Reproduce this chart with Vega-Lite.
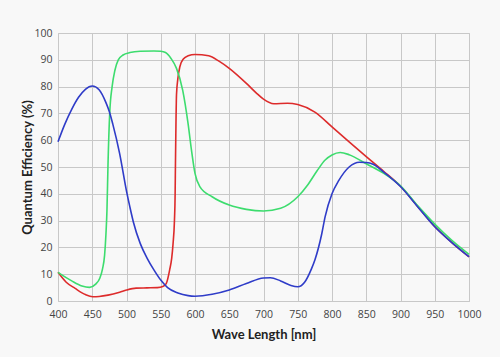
{
  "$schema": "https://vega.github.io/schema/vega-lite/v6.json",
  "width": 411,
  "height": 268,
  "autosize": "none",
  "padding": {"left": 58, "top": 33, "right": 31, "bottom": 56},
  "background": "#f8f8f8",
  "config": {
    "view": {"stroke": "#c8c8c8", "strokeWidth": 1},
    "font": "Open Sans",
    "axis": {
      "gridColor": "#c8c8c8",
      "gridOpacity": 1,
      "gridWidth": 1,
      "domain": false,
      "ticks": false,
      "labelFont": "Open Sans",
      "labelFontSize": 10.5,
      "labelColor": "#444444",
      "labelFlush": false,
      "titleFont": "Lato",
      "titleFontSize": 13,
      "titleFontWeight": "bold",
      "titleColor": "#222222"
    }
  },
  "data": {
    "values": [
      {"s": "red", "nm": 400, "qe": 10.7},
      {"s": "red", "nm": 412, "qe": 7},
      {"s": "red", "nm": 425, "qe": 4.7},
      {"s": "red", "nm": 440, "qe": 2.4},
      {"s": "red", "nm": 451, "qe": 1.6},
      {"s": "red", "nm": 460, "qe": 1.7},
      {"s": "red", "nm": 473, "qe": 2.2},
      {"s": "red", "nm": 490, "qe": 3.3},
      {"s": "red", "nm": 500, "qe": 4.1},
      {"s": "red", "nm": 514, "qe": 4.8},
      {"s": "red", "nm": 530, "qe": 4.9},
      {"s": "red", "nm": 545, "qe": 5},
      {"s": "red", "nm": 553, "qe": 5.4},
      {"s": "red", "nm": 558, "qe": 6.5},
      {"s": "red", "nm": 563, "qe": 11.6},
      {"s": "red", "nm": 566, "qe": 16},
      {"s": "red", "nm": 568, "qe": 21.5},
      {"s": "red", "nm": 570, "qe": 30},
      {"s": "red", "nm": 571, "qe": 40},
      {"s": "red", "nm": 571.5, "qe": 52},
      {"s": "red", "nm": 572, "qe": 62},
      {"s": "red", "nm": 573, "qe": 77},
      {"s": "red", "nm": 575, "qe": 83},
      {"s": "red", "nm": 578, "qe": 87.5},
      {"s": "red", "nm": 583, "qe": 90.3},
      {"s": "red", "nm": 590, "qe": 91.5},
      {"s": "red", "nm": 600, "qe": 92},
      {"s": "red", "nm": 620, "qe": 91.5},
      {"s": "red", "nm": 635, "qe": 89.5},
      {"s": "red", "nm": 650, "qe": 86.8},
      {"s": "red", "nm": 675, "qe": 81.2},
      {"s": "red", "nm": 690, "qe": 77.5},
      {"s": "red", "nm": 700, "qe": 75.3},
      {"s": "red", "nm": 715, "qe": 73.6},
      {"s": "red", "nm": 735, "qe": 73.8},
      {"s": "red", "nm": 750, "qe": 73.3},
      {"s": "red", "nm": 775, "qe": 70.5},
      {"s": "red", "nm": 800, "qe": 65},
      {"s": "red", "nm": 825, "qe": 59.4},
      {"s": "red", "nm": 850, "qe": 53.9},
      {"s": "red", "nm": 875, "qe": 48.5},
      {"s": "red", "nm": 900, "qe": 42.8},
      {"s": "red", "nm": 925, "qe": 35.3},
      {"s": "red", "nm": 950, "qe": 27.8},
      {"s": "red", "nm": 975, "qe": 21.8},
      {"s": "red", "nm": 1000, "qe": 16.5},
      {"s": "green", "nm": 400, "qe": 10.7},
      {"s": "green", "nm": 420, "qe": 7.5},
      {"s": "green", "nm": 435, "qe": 5.6},
      {"s": "green", "nm": 446, "qe": 5.1},
      {"s": "green", "nm": 455, "qe": 6.3},
      {"s": "green", "nm": 461, "qe": 8.5},
      {"s": "green", "nm": 465, "qe": 12},
      {"s": "green", "nm": 468, "qe": 17},
      {"s": "green", "nm": 470, "qe": 25},
      {"s": "green", "nm": 471.5, "qe": 34},
      {"s": "green", "nm": 473, "qe": 51},
      {"s": "green", "nm": 475.5, "qe": 70},
      {"s": "green", "nm": 479, "qe": 80},
      {"s": "green", "nm": 483, "qe": 86},
      {"s": "green", "nm": 488, "qe": 90},
      {"s": "green", "nm": 495, "qe": 91.8},
      {"s": "green", "nm": 505, "qe": 92.7},
      {"s": "green", "nm": 520, "qe": 93.2},
      {"s": "green", "nm": 540, "qe": 93.3},
      {"s": "green", "nm": 550, "qe": 93.2},
      {"s": "green", "nm": 557, "qe": 92.7},
      {"s": "green", "nm": 565, "qe": 90.5},
      {"s": "green", "nm": 573, "qe": 86.8},
      {"s": "green", "nm": 582, "qe": 78.7},
      {"s": "green", "nm": 590, "qe": 66},
      {"s": "green", "nm": 595, "qe": 56},
      {"s": "green", "nm": 600, "qe": 47.6},
      {"s": "green", "nm": 607, "qe": 42.7},
      {"s": "green", "nm": 625, "qe": 38.9},
      {"s": "green", "nm": 650, "qe": 35.8},
      {"s": "green", "nm": 675, "qe": 34.2},
      {"s": "green", "nm": 700, "qe": 33.6},
      {"s": "green", "nm": 725, "qe": 34.6},
      {"s": "green", "nm": 750, "qe": 38.9},
      {"s": "green", "nm": 765, "qe": 43.5},
      {"s": "green", "nm": 778, "qe": 48.5},
      {"s": "green", "nm": 790, "qe": 52.6},
      {"s": "green", "nm": 800, "qe": 54.5},
      {"s": "green", "nm": 812, "qe": 55.4},
      {"s": "green", "nm": 825, "qe": 54.6},
      {"s": "green", "nm": 850, "qe": 51.2},
      {"s": "green", "nm": 875, "qe": 47.7},
      {"s": "green", "nm": 900, "qe": 43},
      {"s": "green", "nm": 925, "qe": 35.6},
      {"s": "green", "nm": 950, "qe": 28.7},
      {"s": "green", "nm": 975, "qe": 22.6},
      {"s": "green", "nm": 1000, "qe": 17.4},
      {"s": "blue", "nm": 400, "qe": 59.4},
      {"s": "blue", "nm": 410, "qe": 66},
      {"s": "blue", "nm": 420, "qe": 71.5},
      {"s": "blue", "nm": 430, "qe": 76},
      {"s": "blue", "nm": 440, "qe": 79},
      {"s": "blue", "nm": 450, "qe": 80.2},
      {"s": "blue", "nm": 460, "qe": 78.8},
      {"s": "blue", "nm": 470, "qe": 74},
      {"s": "blue", "nm": 475, "qe": 70.6},
      {"s": "blue", "nm": 480, "qe": 66},
      {"s": "blue", "nm": 490, "qe": 55},
      {"s": "blue", "nm": 500, "qe": 41},
      {"s": "blue", "nm": 505, "qe": 35},
      {"s": "blue", "nm": 510, "qe": 29.5},
      {"s": "blue", "nm": 520, "qe": 21.5},
      {"s": "blue", "nm": 530, "qe": 16},
      {"s": "blue", "nm": 540, "qe": 11.6},
      {"s": "blue", "nm": 550, "qe": 7.8},
      {"s": "blue", "nm": 560, "qe": 5},
      {"s": "blue", "nm": 575, "qe": 3},
      {"s": "blue", "nm": 590, "qe": 2},
      {"s": "blue", "nm": 600, "qe": 1.8},
      {"s": "blue", "nm": 625, "qe": 2.5},
      {"s": "blue", "nm": 650, "qe": 4.1},
      {"s": "blue", "nm": 675, "qe": 6.5},
      {"s": "blue", "nm": 700, "qe": 8.6},
      {"s": "blue", "nm": 710, "qe": 8.7},
      {"s": "blue", "nm": 725, "qe": 7.5},
      {"s": "blue", "nm": 740, "qe": 5.8},
      {"s": "blue", "nm": 750, "qe": 5.3},
      {"s": "blue", "nm": 760, "qe": 7},
      {"s": "blue", "nm": 770, "qe": 12},
      {"s": "blue", "nm": 775, "qe": 15.3},
      {"s": "blue", "nm": 785, "qe": 25},
      {"s": "blue", "nm": 790, "qe": 31.5},
      {"s": "blue", "nm": 800, "qe": 40},
      {"s": "blue", "nm": 810, "qe": 45},
      {"s": "blue", "nm": 825, "qe": 50},
      {"s": "blue", "nm": 840, "qe": 51.8},
      {"s": "blue", "nm": 850, "qe": 51.7},
      {"s": "blue", "nm": 860, "qe": 51},
      {"s": "blue", "nm": 875, "qe": 48.2},
      {"s": "blue", "nm": 900, "qe": 42.7},
      {"s": "blue", "nm": 925, "qe": 35.2},
      {"s": "blue", "nm": 950, "qe": 27.7},
      {"s": "blue", "nm": 975, "qe": 21.8},
      {"s": "blue", "nm": 1000, "qe": 16.5}
    ]
  },
  "mark": {"type": "line", "interpolate": "monotone", "strokeWidth": 1.6},
  "encoding": {
    "x": {
      "field": "nm",
      "type": "quantitative",
      "scale": {"domain": [400, 1000], "nice": false, "zero": false},
      "axis": {"values": [400, 450, 500, 550, 600, 650, 700, 750, 800, 850, 900, 950, 1000], "format": "d", "title": "Wave Length [nm]", "labelPadding": 8, "titlePadding": 9}
    },
    "y": {
      "field": "qe",
      "type": "quantitative",
      "scale": {"domain": [0, 100], "nice": false},
      "axis": {"values": [0, 10, 20, 30, 40, 50, 60, 70, 80, 90, 100], "title": "Quantum Efficiency (%)", "labelPadding": 6, "titlePadding": -1}
    },
    "color": {
      "field": "s",
      "type": "nominal",
      "scale": {"domain": ["red", "green", "blue"], "range": ["#dd2b2b", "#3ddc6e", "#2f3cc8"]},
      "legend": null
    },
    "order": {"field": "nm", "type": "quantitative"}
  }
}
